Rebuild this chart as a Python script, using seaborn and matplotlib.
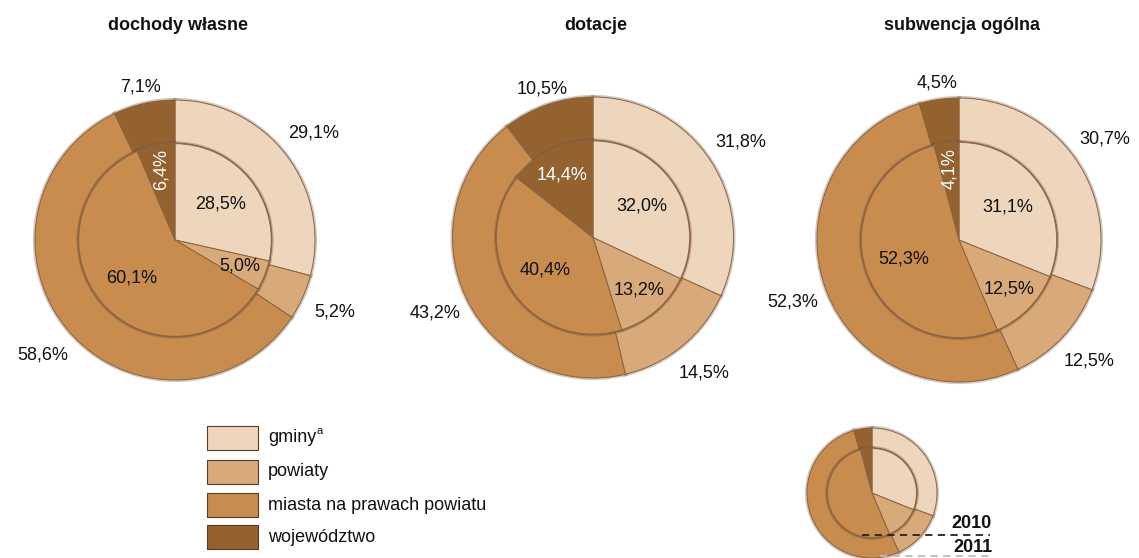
import numpy as np
import matplotlib
matplotlib.use("Agg")
import matplotlib.pyplot as plt
from matplotlib.patches import Rectangle, Circle
import seaborn as sns

# ---------------- data ----------------
categories = ["gminy", "powiaty", "miasta na prawach powiatu", "województwo"]
titles = ["dochody własne", "dotacje", "subwencja ogólna"]
# outer ring = 2011, inner pie = 2010
dochody_2011 = [29.1, 5.2, 58.6, 7.1]
dochody_2010 = [28.5, 5.0, 60.1, 6.4]
dotacje_2011 = [31.8, 14.5, 43.2, 10.5]
dotacje_2010 = [32.0, 13.2, 40.4, 14.4]
subwencja_2011 = [30.7, 12.5, 52.3, 4.5]
subwencja_2010 = [31.1, 12.5, 52.3, 4.1]
key_years = ["2010", "2011"]

colors = ["#EDD6BC", "#D8A979", "#C78C4E", "#93622F"]
edge = "#8b6443"
shade = (0.42, 0.29, 0.18, 0.30)

W, H = 1139, 558
sns.set_theme(style="white")
plt.rcParams["font.family"] = ["Liberation Sans", "DejaVu Sans"]
palette = sns.color_palette(colors)

fig = plt.figure(figsize=(W / 100, H / 100), dpi=100)
ax = fig.add_axes([0, 0, 1, 1])

FS = 13


def fmt(v):
    return f"{v:.1f}".replace(".", ",") + "%"


def draw_double(cx, cy, R, outer, inner, labels=True):
    ri = R * 0.69
    # soft shadow / bevel underlay
    ax.pie(outer, colors=palette, startangle=90, counterclock=False,
           radius=R, center=(cx, cy),
           wedgeprops=dict(width=R - ri, edgecolor=shade, linewidth=3.0))
    wo, _ = ax.pie(outer, colors=palette, startangle=90, counterclock=False,
                   radius=R, center=(cx, cy),
                   wedgeprops=dict(width=R - ri, edgecolor=edge, linewidth=0.7))
    ax.pie(inner, colors=palette, startangle=90, counterclock=False,
           radius=ri, center=(cx, cy),
           wedgeprops=dict(edgecolor=shade, linewidth=3.0))
    wi, _ = ax.pie(inner, colors=palette, startangle=90, counterclock=False,
                   radius=ri, center=(cx, cy),
                   wedgeprops=dict(edgecolor=edge, linewidth=0.7))
    ax.add_patch(Circle((cx, cy), ri, fill=False, ec=edge, lw=1.2, alpha=0.7))
    if not labels:
        return
    for w, v in zip(wo, outer):
        a = np.deg2rad((w.theta1 + w.theta2) / 2)
        d = 1.12 if np.sin(a) > 0.9 else 1.25
        ax.text(cx + d * R * np.cos(a), cy + d * R * np.sin(a), fmt(v),
                ha="center", va="center", fontsize=FS, color="#111111")
    for i, (w, v) in enumerate(zip(wi, inner)):
        a = np.deg2rad((w.theta1 + w.theta2) / 2)
        col = "white" if i == 3 else "#111111"
        if i == 3 and v < 10:
            d, rot = 0.74, 90
        elif v < 15:
            d, rot = 0.72, 0
        else:
            d, rot = 0.6, 0
        ax.text(cx + d * ri * np.cos(a), cy + d * ri * np.sin(a), fmt(v),
                ha="center", va="center", fontsize=FS, color=col, rotation=rot)


centers = [(175, 240, 140), (593, 237.5, 140.5), (959, 240, 142)]
datasets = [(dochody_2011, dochody_2010), (dotacje_2011, dotacje_2010),
            (subwencja_2011, subwencja_2010)]
for (cx, cy, R), (o, i), t in zip(centers, datasets, titles):
    draw_double(cx, H - cy, R, o, i)
    ax.text(cx + 3, H - 25, t, ha="center", va="center", fontsize=FS,
            fontweight="bold", color="#111111")

# key pie
draw_double(872, H - 493, 65, subwencja_2011, subwencja_2010, labels=False)
ax.plot([862, 990], [H - 535, H - 535], ls=(0, (4, 3)), color="#222222", lw=1.3)
ax.plot([880, 990], [H - 556, H - 556], ls=(0, (4, 3)), color="#bbbbbb", lw=1.3)
ax.text(992, H - 523, key_years[0], ha="right", va="center", fontsize=FS,
        fontweight="bold", color="#111111")
ax.text(992, H - 547, key_years[1], ha="right", va="center", fontsize=FS,
        fontweight="bold", color="#111111")

# legend
box_tops = [426, 460, 493, 525]
for top, c, lab in zip(box_tops, palette, categories):
    ax.add_patch(Rectangle((207, H - top - 24), 51, 24, facecolor=c,
                           edgecolor="#5a3c22", lw=0.8))
    t = ax.text(268, H - top - 12, lab, ha="left", va="center", fontsize=FS,
                color="#111111")
    if lab == "gminy":
        ax.annotate("a", xy=(1, 0.62), xycoords=t, fontsize=8,
                    ha="left", va="bottom", color="#111111")

ax.set_xlim(0, W)
ax.set_ylim(0, H)
ax.set_aspect("equal")
ax.axis("off")
fig.savefig("out.png", dpi=100, facecolor="white")
